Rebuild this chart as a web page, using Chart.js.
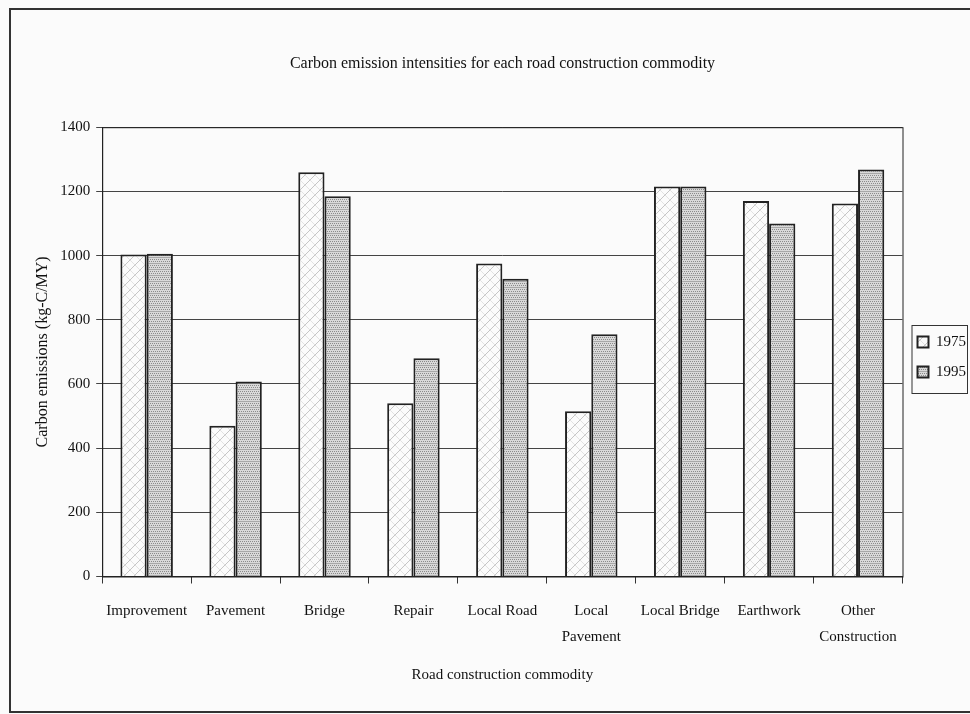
<!DOCTYPE html>
<html>
<head>
<meta charset="utf-8">
<script src="https://cdn.jsdelivr.net/npm/chart.js@4/dist/chart.umd.min.js"></script>
<style>
  html, body { margin: 0; padding: 0; background: #fbfbfb; }
  #wrap { width: 970px; height: 714px; position: relative; }
</style>
</head>
<body>
<div id="wrap"><canvas id="chart" width="970" height="714"></canvas></div>
<script>
// --- DATA ---
const categories = [
    "Improvement", "Pavement", "Bridge", "Repair", "Local Road",
    ["Local", "Pavement"], "Local Bridge", "Earthwork", ["Other", "Construction"]
];
const values1975 = [1003, 470, 1260, 540, 975, 515, 1215, 1170, 1162];
const values1995 = [1006, 608, 1185, 680, 928, 755, 1215, 1100, 1268];
const yTicks = [0, 200, 400, 600, 800, 1000, 1200, 1400];

const FONT = '"Liberation Serif", "DejaVu Serif", serif';
const LEGEND_SHIFT = -14; // legend sits a bit above the middle

// --- PATTERNS ---
function hatchPattern() {
    const c = document.createElement('canvas');
    c.width = 10; c.height = 10;
    const g = c.getContext('2d');
    g.fillStyle = '#fbfbfb';
    g.fillRect(0, 0, 10, 10);
    g.strokeStyle = '#b8b8b8';
    g.lineWidth = 0.8;
    g.beginPath();
    g.moveTo(0, 10); g.lineTo(10, 0);
    g.moveTo(-5, 5); g.lineTo(5, -5);
    g.moveTo(5, 15); g.lineTo(15, 5);
    g.stroke();
    g.strokeStyle = '#dcdcdc';
    g.beginPath();
    g.moveTo(0, 0); g.lineTo(10, 10);
    g.stroke();
    return g.createPattern(c, 'repeat');
}

function dotPattern() {
    const c = document.createElement('canvas');
    c.width = 4; c.height = 6;
    const g = c.getContext('2d');
    g.fillStyle = '#d9d9d9';
    g.fillRect(0, 0, 4, 6);
    g.fillStyle = '#8a8a8a';
    g.fillRect(0, 1, 1, 1);
    g.fillRect(2, 1, 1, 1);
    g.fillRect(1, 3, 1, 1);
    g.fillRect(3, 3, 1, 1);
    g.fillStyle = '#a8a8a8';
    g.fillRect(0, 5, 4, 1);
    return g.createPattern(c, 'repeat');
}

// frame around the whole figure + border around plot area and legend items
const framePlugin = {
    id: 'frame',
    beforeDraw(chart) {
        const lg = chart.legend;
        if (!lg._shifted) {
            lg.top += LEGEND_SHIFT;
            lg.bottom += LEGEND_SHIFT;
            lg.adjustHitBoxes();
            lg._shifted = true;
        }
    },
    afterDraw(chart) {
        const ctx = chart.ctx;
        const a = chart.chartArea;
        ctx.save();
        ctx.strokeStyle = '#222';
        ctx.lineWidth = 1;
        ctx.strokeRect(a.left + 0.5, a.top + 0.5, a.right - a.left, a.bottom - a.top);

        const boxes = chart.legend.legendHitBoxes;
        if (boxes && boxes.length) {
            const l = a.right + 9;
            const t = Math.min(...boxes.map(b => b.top)) - 10;
            const b = Math.max(...boxes.map(b => b.top + b.height)) + 13;
            ctx.strokeStyle = '#333';
            ctx.strokeRect(l + 0.5, Math.round(t) + 0.5, 967 - l, Math.round(b - t));
        }

        ctx.lineWidth = 2;
        ctx.strokeStyle = '#333';
        ctx.strokeRect(10, 9, 962, 703);
        ctx.restore();
    }
};

const chart = new Chart(document.getElementById('chart'), {
    type: 'bar',
    data: {
        labels: categories,
        datasets: [{
            label: '1975',
            data: values1975,
            backgroundColor: hatchPattern(),
            borderColor: '#222',
            borderWidth: 2,
            barPercentage: 1.0,
            categoryPercentage: 0.59
        }, {
            label: '1995',
            data: values1995,
            backgroundColor: dotPattern(),
            borderColor: '#222',
            borderWidth: 2,
            barPercentage: 1.0,
            categoryPercentage: 0.59
        }]
    },
    options: {
        responsive: false,
        animation: false,
        layout: { padding: { top: 54, left: 29, right: -6, bottom: 26 } },
        scales: {
            x: {
                offset: true,
                grid: { display: true, drawOnChartArea: false, offset: true, color: '#333', tickLength: 7 },
                border: { color: '#222', width: 1 },
                ticks: { color: '#111', font: { family: FONT, size: 15, lineHeight: 1.75 },
                         maxRotation: 0, autoSkip: false, padding: 14 },
                title: { display: true, text: 'Road construction commodity', color: '#111',
                         font: { family: FONT, size: 15 }, padding: { top: 2 } }
            },
            y: {
                min: 0, max: 1400,
                afterBuildTicks(scale) { scale.ticks = yTicks.map(v => ({ value: v })); },
                grid: { color: '#444', lineWidth: 1, tickLength: 6 },
                border: { color: '#222', width: 1 },
                ticks: { color: '#111', font: { family: FONT, size: 15 }, padding: 6,
                         callback: v => String(v) },
                title: { display: true, text: 'Carbon emissions (kg-C/MY)', color: '#111',
                         font: { family: FONT, size: 16 }, padding: { bottom: 2 } }
            }
        },
        plugins: {
            title: {
                display: true,
                text: 'Carbon emission intensities for each road construction commodity',
                color: '#111',
                font: { family: FONT, size: 16, weight: 'normal' },
                padding: { top: 0, bottom: 54 }
            },
            legend: {
                position: 'right',
                labels: {
                    color: '#111',
                    font: { family: FONT, size: 15 },
                    boxWidth: 11,
                    boxHeight: 11,
                    padding: 15
                }
            },
            tooltip: { enabled: false }
        }
    },
    plugins: [framePlugin]
});
</script>
</body>
</html>
